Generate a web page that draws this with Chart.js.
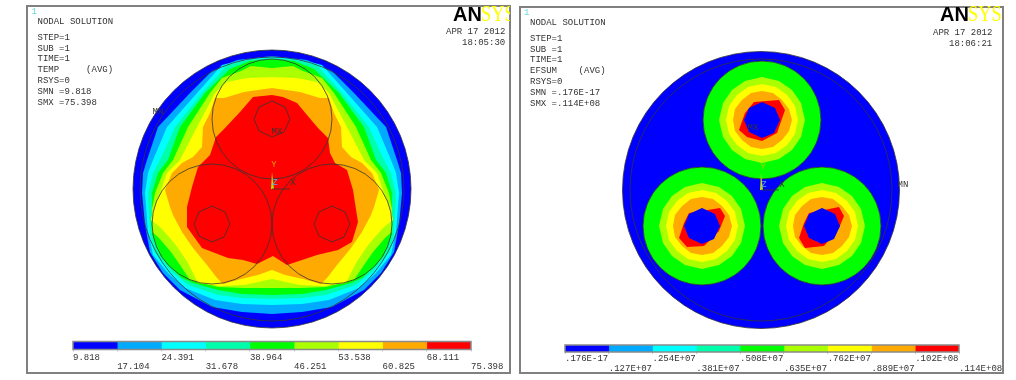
<!DOCTYPE html>
<html>
<head>
<meta charset="utf-8">
<script src="https://cdn.jsdelivr.net/npm/chart.js@4"></script>
<style>
    html, body { margin: 0; padding: 0; background: #fff; width: 1016px; height: 380px; overflow: hidden; }
    #page { position: absolute; left: 0; top: 0; width: 1016px; height: 380px; filter: blur(0.35px); }
    canvas { position: absolute; }
    .panel { position: absolute; box-sizing: border-box; border: 2px solid #808080; }
    .note { position: absolute; font: 9px/10px "Liberation Mono", monospace; color: #333; white-space: pre; }
    .logo { position: absolute; white-space: pre; line-height: 20px; transform-origin: left bottom; }
</style>
</head>
<body>
<div id="page">
<div class="panel" style="left:26px;top:5px;width:485px;height:369px"></div>
<div class="panel" style="left:519px;top:6px;width:485px;height:368px"></div>
<div id="texts"></div>
<canvas id="left-plot" width="300" height="300" style="left:122px;top:39px"></canvas>
<canvas id="right-plot" width="300" height="300" style="left:611px;top:40px"></canvas>
<canvas id="left-bar" width="449" height="38" style="left:72px;top:338px"></canvas>
<canvas id="right-bar" width="445" height="38" style="left:564px;top:341px"></canvas>
</div>

<script>
/**==========================
       Chart data
==========================*/

const band_colours = ['#0000ff', '#00aaff', '#00ffff', '#00ffaa', '#00ff00', '#aaff00', '#ffff00', '#ffaa00', '#ff0000'];

// colour bar levels and labels
const temp_levels = [9.818, 17.104, 24.391, 31.678, 38.964, 46.251, 53.538, 60.825, 68.111, 75.398];
const temp_labels = ['9.818', '17.104', '24.391', '31.678', '38.964', '46.251', '53.538', '60.825', '68.111', '75.398'];
const efsum_levels = [0.176e-17, 1.27e6, 2.54e6, 3.81e6, 5.08e6, 6.35e6, 7.62e6, 8.89e6, 10.16e6, 11.43e6];
const efsum_labels = ['.176E-17', '.127E+07', '.254E+07', '.381E+07', '.508E+07', '.635E+07', '.762E+07', '.889E+07', '.102E+08', '.114E+08'];

// header text
const temp_header = ['STEP=1', 'SUB =1', 'TIME=1', 'TEMP     (AVG)', 'RSYS=0', 'SMN =9.818', 'SMX =75.398'];
const efsum_header = ['STEP=1', 'SUB =1', 'TIME=1', 'EFSUM    (AVG)', 'RSYS=0', 'SMN =.176E-17', 'SMX =.114E+08'];

// temperature contours, outermost first (model units, y up)
const temp_contours = [
    [[0, 133], [35, 129], [60, 118], [82, 96], [114, 62], [125, 29], [129, 16], [130, -4], [127, -36], [122, -63], [109, -84], [92, -101], [60, -118], [30, -123], [0, -125], [-30, -123], [-60, -118], [-92, -101], [-109, -84], [-122, -63], [-127, -36], [-130, -4], [-129, 16], [-125, 29], [-114, 62], [-82, 96], [-60, 118], [-35, 129]],
    [[0, 132], [30, 129], [50, 124], [75, 96], [105, 62], [119, 29], [124, 16], [127, -4], [124, -43], [119, -66], [104, -84], [87, -99], [57, -111], [30, -115], [0, -116], [-30, -115], [-57, -111], [-87, -99], [-104, -84], [-119, -66], [-124, -43], [-127, -4], [-124, 16], [-119, 29], [-105, 62], [-75, 96], [-50, 124], [-30, 129]],
    [[0, 131], [25, 129], [45, 124], [70, 96], [97, 62], [112, 29], [119, 16], [124, -4], [122, -46], [117, -63], [100, -83], [84, -96], [54, -106], [30, -109], [0, -110], [-30, -109], [-54, -106], [-84, -96], [-100, -83], [-117, -63], [-122, -46], [-124, -4], [-119, 16], [-112, 29], [-97, 62], [-70, 96], [-45, 124], [-25, 129]],
    [[0, 130], [22, 128], [42, 120], [67, 96], [92, 62], [104, 29], [114, 16], [120, -4], [120, -44], [112, -66], [104, -76], [90, -89], [79, -94], [54, -101], [30, -105], [0, -106], [-30, -105], [-54, -101], [-79, -94], [-90, -89], [-104, -76], [-112, -66], [-120, -44], [-120, -4], [-114, 16], [-104, 29], [-92, 62], [-67, 96], [-42, 120], [-22, 128]],
    [[0, 121], [21, 123], [31, 118], [50, 111], [62, 96], [84, 62], [99, 29], [109, 16], [117, -4], [120, -20], [120, -43], [114, -48], [107, -56], [101, -63], [92, -76], [82, -91], [54, -98], [28, -99], [0, -99], [-28, -99], [-54, -98], [-82, -91], [-92, -76], [-101, -63], [-107, -56], [-114, -48], [-120, -43], [-120, -20], [-117, -4], [-109, 16], [-99, 29], [-84, 62], [-62, 96], [-50, 111], [-31, 118], [-21, 123]],
    [[0, 112], [25, 111], [45, 107], [57, 96], [75, 62], [92, 29], [105, 16], [112, -4], [118, -18], [121, -31], [112, -38], [102, -49], [94, -59], [84, -74], [74, -94], [51, -97], [28, -96], [0, -90], [-28, -96], [-51, -97], [-74, -94], [-84, -74], [-94, -59], [-102, -49], [-112, -38], [-121, -31], [-118, -18], [-112, -4], [-105, 16], [-92, 29], [-75, 62], [-57, 96], [-45, 107], [-25, 111]],
    [[0, 101], [28, 97], [48, 91], [57, 91], [62, 76], [69, 62], [70, 42], [79, 32], [90, 26], [100, 16], [107, -1], [102, -18], [99, -26], [90, -43], [79, -59], [65, -76], [55, -89], [49, -95], [31, -90], [13, -86], [0, -81], [-14, -86], [-31, -90], [-49, -95], [-55, -89], [-65, -76], [-79, -59], [-90, -43], [-99, -26], [-102, -18], [-107, -1], [-100, 16], [-90, 26], [-79, 32], [-70, 42], [-69, 62], [-62, 76], [-57, 91], [-48, 91], [-28, 97]],
    [[0, 94], [11, 92], [25, 86], [35, 74], [46, 61], [56, 51], [58, 36], [63, 26], [75, 19], [81, -1], [83, -14], [86, -33], [80, -53], [66, -61], [45, -66], [15, -76], [1, -67], [-15, -75], [-29, -71], [-44, -69], [-70, -59], [-85, -38], [-85, -18], [-80, 2], [-74, 22], [-62, 34], [-56, 52], [-47, 61], [-32, 77], [-19, 92]]
];
const temp_cable_centres = [[0, 70], [-60, -35], [60, -35]];
const efsum_cable_centres = [[1, 70], [-59, -36], [61, -36]];

// conductor outline, relative to its cable centre
const conductor_outline = [[0, 18], [13, 12], [18, 0], [12, -13], [0, -18], [-13, -12], [-18, 0], [-13, 12]];

// field rings, relative to cable centre
const lime_ring = [[0, 43], [17, 39], [30, 30], [39, 17], [43, 0], [39, -17], [30, -30], [17, -39], [0, -43], [-17, -39], [-30, -30], [-39, -17], [-43, 0], [-39, 17], [-30, 30], [-17, 39]];
const yellow_ring = [[0, 36], [14, 33], [25, 25], [33, 14], [36, 0], [33, -14], [25, -25], [14, -33], [0, -36], [-14, -33], [-25, -25], [-33, -14], [-36, 0], [-33, 14], [-25, 25], [-14, 33]];
const orange_ring = [[0, 29], [11, 27], [20, 20], [27, 11], [30, 0], [27, -11], [20, -20], [11, -27], [0, -29], [-11, -27], [-20, -20], [-27, -11], [-29, 0], [-27, 11], [-20, 20], [-11, 27]];
const red_rings = [
    [[-8, 18], [17, 20], [23, 10], [15, -13], [0, -21], [-15, -17], [-23, -10], [-17, 7]],
    [[-13, 13], [18, 18], [23, 10], [17, -5], [2, -20], [-15, -21], [-23, -12], [-18, 3]],
    [[-13, 13], [17, 19], [22, 10], [17, -2], [2, -20], [-17, -22], [-23, -12], [-18, 3]]
];

// small labels inside the plots
const temp_notes = [['MN', -114, 77, '#333'], ['MX', 5, 57, '#333'], ['Y', 2, 24, '#e8a000'], ['X', 21, 6, '#333'], ['Z', 3, 6, '#55aaee']];
const efsum_notes = [['MX', -8, 62, '#333'], ['MN', 142, 5, '#333'], ['Y', 2, 23, '#aacc00'], ['X', 21, 5, '#333'], ['Z', 3, 5, '#55aaee']];

/**==========================
       Helpers
==========================*/

function to_points(points, centre) {
    let dx = centre ? centre[0] : 0;
    let dy = centre ? centre[1] : 0;
    return points.concat([points[0]]).map(p => ({ x: p[0] + dx, y: p[1] + dy }));
}

function polygon(points, colour, centre) {
    return { data: to_points(points, centre), showLine: true, fill: 'shape', backgroundColor: colour, borderWidth: 0, pointRadius: 0, tension: 0 };
}

function outline(points, centre) {
    return { data: to_points(points, centre), showLine: true, fill: false, borderColor: '#333', borderWidth: 0.8, pointRadius: 0, tension: 0 };
}

function round_mark(centre, radius, fill_colour) {
    return {
        data: [{ x: centre[0], y: centre[1] }],
        showLine: false,
        pointRadius: ctx => ctx.chart.scales.x.getPixelForValue(radius) - ctx.chart.scales.x.getPixelForValue(0),
        pointBackgroundColor: fill_colour,
        pointBorderColor: '#333',
        pointBorderWidth: 0.8
    };
}

function triad(wedge_colour) {
    return [
        polygon([[-1, 0], [2, 0], [0, 17]], wedge_colour),
        { data: [{ x: 0, y: 0 }, { x: 18, y: 0 }], showLine: true, fill: false, borderColor: '#333', borderWidth: 0.8, pointRadius: 0 }
    ];
}

function draw_plot(canvas_id, datasets, notes) {
    // later datasets have to land on top
    datasets.forEach((d, i) => { d.order = datasets.length - i; d.clip = false; });

    return new Chart(document.getElementById(canvas_id), {
        type: 'scatter',
        data: { datasets: datasets },
        options: {
            responsive: false,
            animation: false,
            events: [],
            layout: { padding: 0 },
            plugins: { legend: { display: false }, tooltip: { enabled: false } },
            scales: {
                x: { type: 'linear', min: -150, max: 150, display: false },
                y: { type: 'linear', min: -150, max: 150, display: false }
            }
        },
        plugins: [{
            id: 'notes',
            afterDatasetsDraw(chart) {
                let ctx = chart.ctx;
                ctx.save();
                ctx.font = '9px "Liberation Mono", monospace';
                ctx.textAlign = 'center';
                ctx.textBaseline = 'middle';
                notes.forEach(n => {
                    ctx.fillStyle = n[3];
                    ctx.fillText(n[0], chart.scales.x.getPixelForValue(n[1]), chart.scales.y.getPixelForValue(n[2]));
                });
                ctx.restore();
            }
        }]
    });
}

function draw_colour_bar(canvas_id, levels, labels, top_pad, axis_height, tick_pad) {
    let datasets = band_colours.map((colour, i) => ({
        data: [[levels[i], levels[i + 1]]],
        backgroundColor: colour,
        borderWidth: 0,
        barPercentage: 1,
        categoryPercentage: 1,
        grouped: false
    }));

    return new Chart(document.getElementById(canvas_id), {
        type: 'bar',
        data: { labels: [''], datasets: datasets },
        options: {
            indexAxis: 'y',
            responsive: false,
            animation: false,
            events: [],
            layout: { padding: { left: 1, right: 50, top: top_pad, bottom: 0 } },
            plugins: { legend: { display: false }, tooltip: { enabled: false } },
            scales: {
                y: { display: false },
                x: {
                    type: 'linear',
                    min: levels[0],
                    max: levels[levels.length - 1],
                    border: { display: false },
                    grid: { drawOnChartArea: false, drawTicks: true, tickLength: 2, color: '#c8c8c8' },
                    afterBuildTicks: axis => { axis.ticks = levels.map(v => ({ value: v })); },
                    afterFit: axis => { axis.paddingLeft = 0; axis.paddingRight = 0; axis.height = axis_height; },
                    ticks: {
                        autoSkip: false,
                        maxRotation: 0,
                        minRotation: 0,
                        align: 'start',
                        padding: tick_pad,
                        color: '#333',
                        font: { family: '"Liberation Mono", monospace', size: 9, lineHeight: '9.5px' },
                        callback: (value, i) => (i % 2 === 0 ? [labels[i], ''] : ['', labels[i]])
                    }
                }
            }
        },
        plugins: [{
            id: 'bar-frame',
            afterDatasetsDraw(chart) {
                let a = chart.chartArea;
                chart.ctx.save();
                chart.ctx.strokeStyle = '#8a8a8a';
                chart.ctx.lineWidth = 1.5;
                chart.ctx.strokeRect(a.left, a.top, a.right - a.left, a.bottom - a.top);
                chart.ctx.restore();
            }
        }]
    });
}

function add_note(left, top, text, colour) {
    let style = 'left:' + left + 'px;top:' + top + 'px' + (colour ? ';color:' + colour : '');
    document.getElementById('texts').insertAdjacentHTML('beforeend', "<div class='note' style='" + style + "'>" + text + "</div>");
}

function add_header(left, title_top, first_top, lines, date_right, date_top, time_text) {
    add_note(left - 6, title_top - 15, '1', '#66dddd');
    add_note(left, title_top - 5, 'NODAL SOLUTION');
    let rows = [0, 10.5, 21, 32, 43, 54, 64.5];
    lines.forEach((line, i) => add_note(left, first_top + rows[i] - 5, line));
    add_note(date_right - 59, date_top - 5, 'APR 17 2012');
    add_note(date_right - 43, date_top + 6, time_text);
}

// the left logo runs into the panel border, so its last letter gets cut
function add_logo(left, top, cut) {
    let container = document.getElementById('texts');
    container.insertAdjacentHTML('beforeend', "<div class='logo' style='left:" + left + "px;top:" + top + "px;font:bold 20px/20px \"Liberation Sans\";color:#000;transform:scaleY(1.05)'>AN</div>");
    container.insertAdjacentHTML('beforeend', "<div class='logo' style='left:" + (left + 28) + "px;top:" + top + "px;font:20px/20px \"Liberation Serif\";color:#ffff00;transform:scale(0.92,1.15);clip-path:inset(-5px " + cut + "px -5px 0)'>SYS</div>");
}

/**==========================
       Draw everything
==========================*/

// temperature panel
let temp_sets = [round_mark([0, 0], 139, band_colours[0])];
temp_contours.forEach((points, i) => temp_sets.push(polygon(points, band_colours[i + 1])));
temp_sets.push(round_mark([0, 0], 132, 'rgba(0,0,0,0)'));
temp_cable_centres.forEach(c => {
    temp_sets.push(round_mark(c, 60, 'rgba(0,0,0,0)'));
    temp_sets.push(outline(conductor_outline, c));
});
temp_sets = temp_sets.concat(triad('#b5e000'));
draw_plot('left-plot', temp_sets, temp_notes);

// field panel
let efsum_sets = [round_mark([0, 0], 138.5, band_colours[0]), round_mark([0, 0], 131, 'rgba(0,0,0,0)')];
efsum_cable_centres.forEach((c, i) => {
    efsum_sets.push(round_mark(c, 59, band_colours[4]));
    efsum_sets.push(polygon(lime_ring, band_colours[5], c));
    efsum_sets.push(polygon(yellow_ring, band_colours[6], c));
    efsum_sets.push(polygon(orange_ring, band_colours[7], c));
    efsum_sets.push(polygon(red_rings[i], band_colours[8], c));
    efsum_sets.push(polygon(conductor_outline, band_colours[0], c));
});
efsum_sets = efsum_sets.concat(triad('#c8e000'));
draw_plot('right-plot', efsum_sets, efsum_notes);

draw_colour_bar('left-bar', temp_levels, temp_labels, 3.5, 26.5, 1);
draw_colour_bar('right-bar', efsum_levels, efsum_labels, 4, 27, 0);

add_header(37.5, 21.5, 38, temp_header, 505, 32, '18:05:30');
add_header(530, 22.5, 39, efsum_header, 992, 33, '18:06:21');
add_logo(453, 4, 5.4);
add_logo(940, 4, 0);
</script>
</body>
</html>
